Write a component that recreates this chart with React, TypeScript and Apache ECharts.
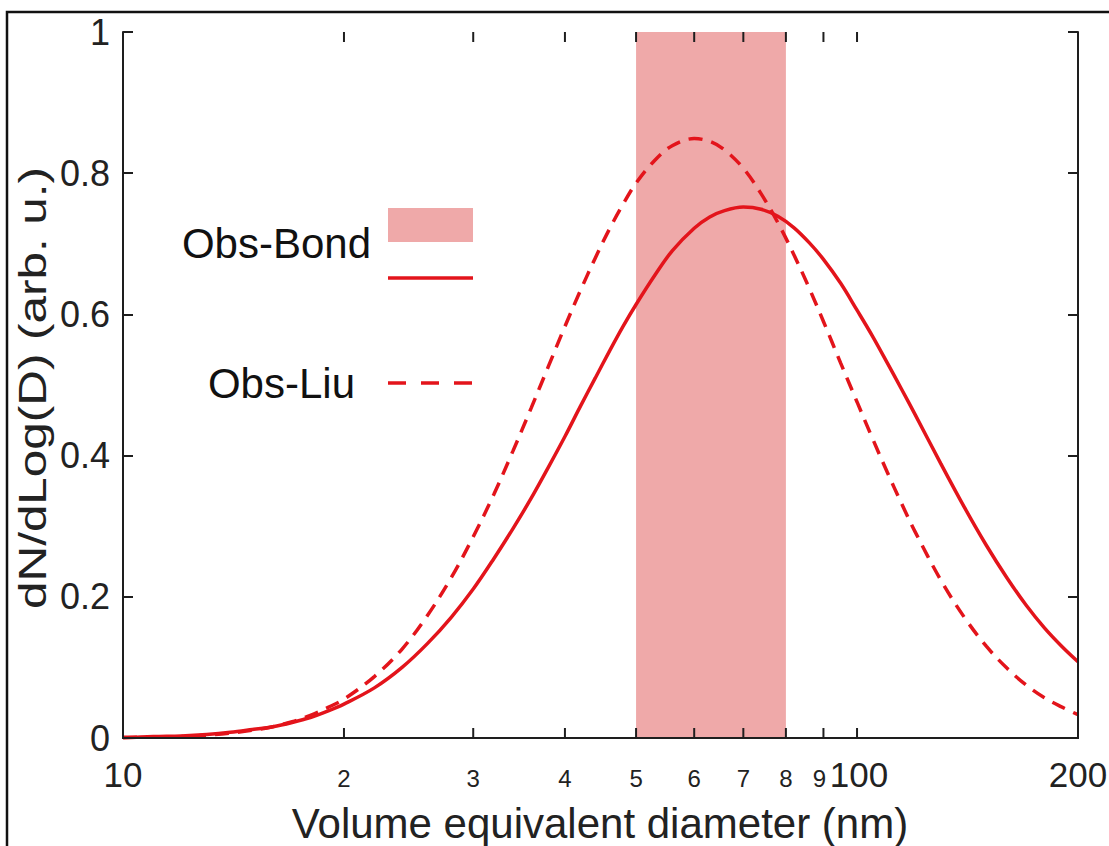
import React, { useEffect, useRef } from "react";
import * as echarts from "echarts";

// ---- data ----
const diameters = [
  10, 11, 12, 13, 14, 15, 16, 17, 18, 19, 20, 22, 24, 26, 28, 30, 32, 34, 36, 38,
  40, 42, 44, 46, 48, 50, 53, 56, 60, 63, 66, 70, 74, 78, 82, 86, 90, 95, 100,
  105, 110, 115, 120, 130, 140, 150, 160, 170, 180, 190, 200,
];
const bondValues = [
  0.0, 0.002, 0.003, 0.005, 0.008, 0.012, 0.016, 0.022, 0.029, 0.038, 0.048,
  0.071, 0.1, 0.134, 0.171, 0.211, 0.254, 0.297, 0.34, 0.384, 0.427, 0.47, 0.51,
  0.548, 0.583, 0.614, 0.655, 0.69, 0.722, 0.738, 0.747, 0.752, 0.749, 0.739,
  0.723, 0.702, 0.678, 0.644, 0.606, 0.569, 0.531, 0.494, 0.458, 0.389, 0.327,
  0.273, 0.227, 0.188, 0.156, 0.13, 0.108,
];
const liuValues = [
  0.001, 0.001, 0.002, 0.004, 0.007, 0.011, 0.016, 0.023, 0.032, 0.043, 0.055,
  0.087, 0.126, 0.174, 0.227, 0.285, 0.345, 0.407, 0.468, 0.527, 0.583, 0.634,
  0.68, 0.721, 0.756, 0.786, 0.818, 0.839, 0.849, 0.845, 0.833, 0.807, 0.771,
  0.73, 0.685, 0.638, 0.59, 0.531, 0.476, 0.424, 0.376, 0.332, 0.292, 0.224,
  0.171, 0.13, 0.099, 0.075, 0.057, 0.044, 0.033,
];
const bondBand = [50, 80];
const xTickValues = [20, 30, 40, 50, 60, 70, 80, 90, 100];
const xLabelValues = [10, 20, 30, 40, 50, 60, 70, 80, 90, 100, 200];
const xLabelTexts = ["10", "2", "3", "4", "5", "6", "7", "8", "9", "100", "200"];
const seriesNames = ["Obs-Bond", "Obs-Liu"];
const xTitle = "Volume equivalent diameter (nm)";
const yTitle = "dN/dLog(D) (arb. u.)";

const RED = "#e3141b";
const BAND = "#efa9a9";
const INK = "#1e1e1e";
const FONT = "'Liberation Sans', Arial, Helvetica, sans-serif";

export default function App() {
  const ref = useRef<HTMLDivElement>(null);
  useEffect(() => {
    const chart = echarts.init(ref.current as HTMLDivElement, null, { renderer: "svg" });
    const axisLine = { show: true, lineStyle: { color: INK, width: 2 } };
    const option: any = {
      animation: false,
      backgroundColor: "#ffffff",
      grid: { left: 123, top: 32, width: 955, height: 706, containLabel: false },
      xAxis: [
        {
          type: "log",
          logBase: 10,
          min: 10,
          max: 200,
          position: "bottom",
          z: 5,
          axisLine,
          axisTick: { show: false },
          axisLabel: { show: false },
          splitLine: { show: false },
        },
        {
          type: "log",
          logBase: 10,
          min: 10,
          max: 200,
          position: "top",
          z: 5,
          axisLine,
          axisTick: { show: false },
          axisLabel: { show: false },
          splitLine: { show: false },
        },
      ],
      yAxis: [
        {
          type: "value",
          min: 0,
          max: 1,
          interval: 0.2,
          position: "left",
          z: 5,
          axisLine,
          axisTick: { show: true, inside: true, length: 10, lineStyle: { color: INK, width: 2 } },
          axisLabel: {
            show: true,
            margin: 13,
            fontSize: 36,
            fontFamily: FONT,
            color: "#222",
            formatter: (v: number) => (v === 0 ? "0" : v === 1 ? "1" : v.toFixed(1)),
          },
          splitLine: { show: false },
        },
        {
          type: "value",
          min: 0,
          max: 1,
          interval: 0.2,
          position: "right",
          z: 5,
          axisLine,
          axisTick: { show: true, inside: true, length: 10, lineStyle: { color: INK, width: 2 } },
          axisLabel: { show: false },
          splitLine: { show: false },
        },
      ],
      series: [
        {
          name: seriesNames[0],
          type: "line",
          xAxisIndex: 0,
          yAxisIndex: 0,
          data: diameters.map((d, i) => [d, bondValues[i]]),
          showSymbol: false,
          smooth: 0.35,
          z: 3,
          lineStyle: { color: RED, width: 3.5 },
          itemStyle: { color: RED },
          markArea: {
            silent: true,
            z: 1,
            itemStyle: { color: BAND, opacity: 1 },
            data: [[{ xAxis: bondBand[0] }, { xAxis: bondBand[1] }]],
          },
        },
        {
          name: seriesNames[1],
          type: "line",
          xAxisIndex: 0,
          yAxisIndex: 0,
          data: diameters.map((d, i) => [d, liuValues[i]]),
          showSymbol: false,
          smooth: 0.35,
          z: 3,
          lineStyle: { color: RED, width: 3.5, type: [14, 9] },
          itemStyle: { color: RED },
        },
        {
          type: "custom",
          xAxisIndex: 0,
          yAxisIndex: 0,
          silent: true,
          z: 6,
          clip: false,
          data: xTickValues.map((v) => [v, 0]),
          encode: { x: 0, y: 1 },
          renderItem: (params: any, api: any) => {
            const v = api.value(0);
            const b = api.coord([v, 0]);
            const t = api.coord([v, 1]);
            const st = { stroke: INK, lineWidth: 2 };
            return {
              type: "group",
              children: [
                { type: "line", shape: { x1: b[0], y1: b[1], x2: b[0], y2: b[1] - 10 }, style: st },
                { type: "line", shape: { x1: t[0], y1: t[1], x2: t[0], y2: t[1] + 10 }, style: st },
              ],
            };
          },
        },
        {
          type: "custom",
          xAxisIndex: 0,
          yAxisIndex: 0,
          silent: true,
          z: 6,
          clip: false,
          data: xLabelValues.map((v, i) => [v, 0, i]),
          encode: { x: 0, y: 1 },
          renderItem: (params: any, api: any) => {
            const v = api.value(0);
            const i = api.value(2);
            const p = api.coord([v, 0]);
            const txt = xLabelTexts[i];
            const big = txt.length > 1;
            const dx = txt === "9" ? -4 : txt === "100" ? 2 : 0;
            return {
              type: "text",
              x: p[0] + dx,
              y: p[1] + (big ? 36 : 40),
              style: {
                text: txt,
                fill: "#222",
                fontSize: big ? 35 : 24,
                fontFamily: FONT,
                align: "center",
                verticalAlign: "middle",
              },
            };
          },
        },
      ],
      graphic: [
        {
          type: "rect",
          silent: true,
          shape: { x: 7, y: 12, width: 1300, height: 1000 },
          style: { fill: "none", stroke: "#111", lineWidth: 2.5 },
        },
        {
          type: "text",
          x: 600,
          y: 823,
          style: { text: xTitle, fontSize: 42, fontFamily: FONT, fill: "#222", align: "center", verticalAlign: "middle" },
        },
        {
          type: "text",
          x: 33,
          y: 388,
          rotation: Math.PI / 2,
          scaleX: 1.3,
          style: { text: yTitle, fontSize: 38, fontFamily: FONT, fill: "#222", align: "center", verticalAlign: "middle" },
        },
        {
          type: "rect",
          shape: { x: 388, y: 208, width: 85, height: 34 },
          style: { fill: BAND },
        },
        {
          type: "line",
          shape: { x1: 388, y1: 278, x2: 473, y2: 278 },
          style: { stroke: RED, lineWidth: 3.5 },
        },
        {
          type: "line",
          shape: { x1: 388, y1: 383, x2: 473, y2: 383 },
          style: { stroke: RED, lineWidth: 3.5, lineDash: [18, 15] },
        },
        {
          type: "text",
          x: 371,
          y: 243,
          style: { text: seriesNames[0], fontSize: 42, fontFamily: FONT, fill: "#111", align: "right", verticalAlign: "middle" },
        },
        {
          type: "text",
          x: 355,
          y: 383,
          style: { text: seriesNames[1], fontSize: 42, fontFamily: FONT, fill: "#111", align: "right", verticalAlign: "middle" },
        },
      ],
    };
    chart.setOption(option);
    return () => chart.dispose();
  }, []);
  return (
    <div style={{ position: "fixed", left: 0, top: 0, width: 1109, height: 846, background: "#fff" }}>
      <div ref={ref} style={{ width: 1109, height: 846 }} />
    </div>
  );
}
